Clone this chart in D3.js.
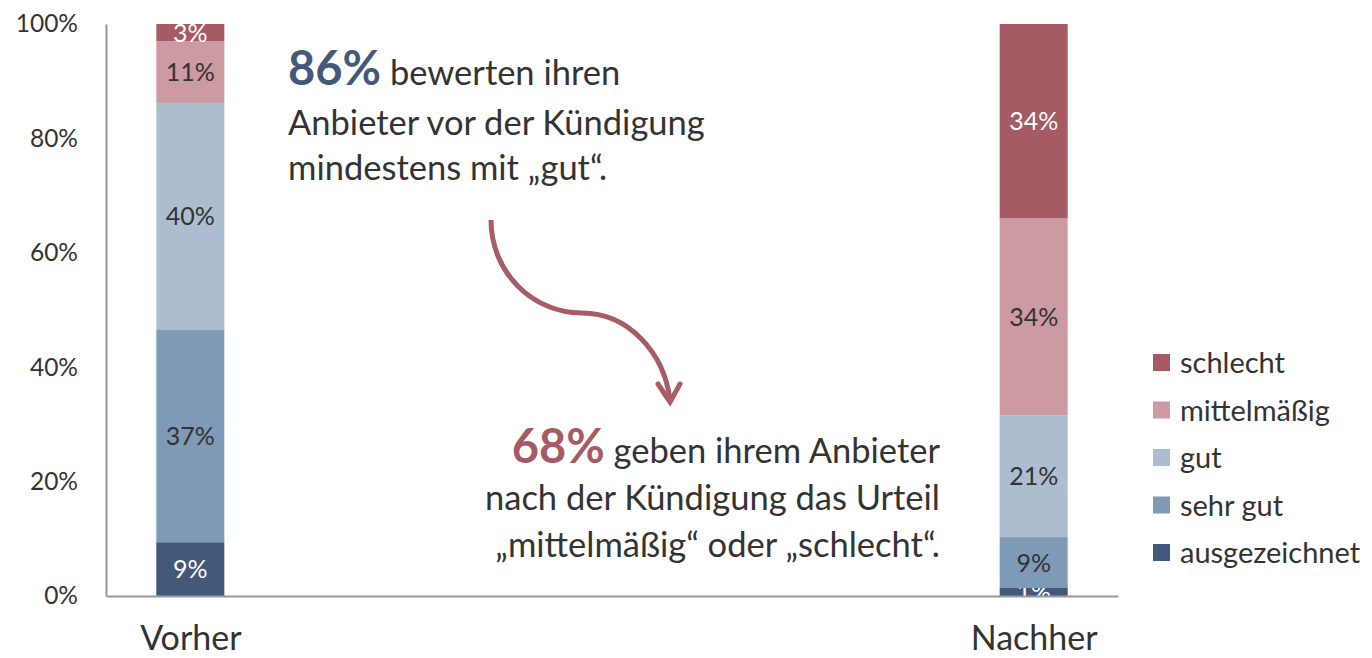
<!DOCTYPE html>
<html>
<head>
<meta charset="utf-8">
<script src="https://cdn.jsdelivr.net/npm/d3@7"></script>
<style>
  body { margin: 0; background: #fff; }
  svg { display: block; font-family: Lato, "Open Sans", sans-serif; }
</style>
</head>
<body>
<div id="chart"></div>
<script>
const categories = ['Vorher', 'Nachher'];
const ratings = ['ausgezeichnet', 'sehr gut', 'gut', 'mittelmäßig', 'schlecht'];
const vorher = [9.4, 37.1, 39.7, 10.8, 3.0];
const nachher = [1.4, 8.9, 21.3, 34.4, 34.0];
const labelsVorher = ['9%', '37%', '40%', '11%', '3%'];
const labelsNachher = ['1%', '9%', '21%', '34%', '34%'];
const yTicks = [0, 20, 40, 60, 80, 100];
const colors = ['#44597a', '#7f9ab6', '#adbdd0', '#cc9aa1', '#a65a63'];
const labelColors = ['#fff', '#333', '#333', '#333', '#fff'];

const width = 1372, height = 658;
const svg = d3.select('#chart').append('svg')
  .attr('width', width)
  .attr('height', height);

const x = d3.scalePoint()
  .domain(categories)
  .range([106, 1118])
  .padding(0.1);

const y = d3.scaleLinear()
  .domain([0, 100])
  .range([596, 24]);

const barWidth = 68;

// stack rows
const rows = categories.map((c, i) => {
  const vals = i === 0 ? vorher : nachher;
  const labs = i === 0 ? labelsVorher : labelsNachher;
  const row = { cat: c };
  ratings.forEach((r, j) => { row[r] = vals[j]; row[r + '_label'] = labs[j]; });
  return row;
});

const stack = d3.stack().keys(ratings);
const series = stack(rows);

const layers = svg.append('g')
  .selectAll('g')
  .data(series)
  .join('g')
    .attr('fill', (d, i) => colors[i]);

layers.selectAll('rect')
  .data(d => d.map(p => ({ p, key: d.key })))
  .join('rect')
    .attr('x', d => x(d.p.data.cat) - barWidth / 2)
    .attr('y', d => y(d.p[1]))
    .attr('width', barWidth)
    .attr('height', d => y(d.p[0]) - y(d.p[1]));

layers.selectAll('text')
  .data((d, i) => d.map(p => ({ p, key: d.key, idx: i })))
  .join('text')
    .attr('x', d => x(d.p.data.cat))
    .attr('y', d => (y(d.p[0]) + y(d.p[1])) / 2)
    .attr('dy', '0.36em')
    .attr('text-anchor', 'middle')
    .attr('font-size', 25)
    .attr('fill', d => labelColors[d.idx])
    .text(d => d.p.data[d.key + '_label']);

// y axis
const yAxis = svg.append('g')
  .attr('transform', 'translate(106,0)')
  .call(d3.axisLeft(y).tickValues(yTicks).tickFormat(d => d + '%').tickSize(0).tickPadding(28));
yAxis.selectAll('text')
  .attr('font-size', 24.5)
  .attr('font-family', 'Lato, sans-serif')
  .attr('fill', '#333');
yAxis.select('.domain').attr('stroke', '#999').attr('stroke-width', 2);

// x axis
const xAxis = svg.append('g')
  .attr('transform', 'translate(0,596)')
  .call(d3.axisBottom(x).tickSize(0).tickPadding(30));
xAxis.selectAll('text')
  .attr('font-size', 34)
  .attr('font-family', 'Lato, sans-serif')
  .attr('fill', '#333');
xAxis.select('.domain').attr('stroke', '#999').attr('stroke-width', 2);

// legend
const legendOrder = ratings.slice().reverse();
const legend = svg.append('g')
  .selectAll('g')
  .data(legendOrder)
  .join('g')
    .attr('transform', (d, i) => `translate(1153,${363 + i * 47.5})`);
legend.append('rect')
  .attr('x', 0).attr('y', -9)
  .attr('width', 17).attr('height', 17)
  .attr('fill', d => colors[ratings.indexOf(d)]);
legend.append('text')
  .attr('x', 27)
  .attr('dy', '0.35em')
  .attr('font-size', 29)
  .attr('fill', '#333')
  .text(d => d);

// annotation 1
const note1 = svg.append('text')
  .attr('x', 288)
  .attr('font-size', 34.5)
  .attr('fill', '#333');
note1.append('tspan').attr('x', 288).attr('y', 85)
  .attr('font-size', 47).attr('font-weight', 'bold').attr('fill', '#44597a').text('86%');
note1.append('tspan').text(' bewerten ihren');
note1.append('tspan').attr('x', 288).attr('y', 135).text('Anbieter vor der Kündigung');
note1.append('tspan').attr('x', 288).attr('y', 180).text('mindestens mit „gut“.');

// annotation 2
const note2 = svg.append('g')
  .attr('font-size', 34.5)
  .attr('fill', '#333')
  .attr('text-anchor', 'end');
const l1 = note2.append('text').attr('x', 940).attr('y', 463);
l1.append('tspan').attr('font-size', 47).attr('font-weight', 'bold').attr('fill', '#a65a63').text('68%');
l1.append('tspan').text(' geben ihrem Anbieter');
note2.append('text').attr('x', 940).attr('y', 510).text('nach der Kündigung das Urteil');
note2.append('text').attr('x', 940).attr('y', 557).text('„mittelmäßig“ oder „schlecht“.');

// arrow
svg.append('path')
  .attr('d', 'M491,220 C491,272 532,313 582,313 C628,313 664,352 670,400')
  .attr('fill', 'none')
  .attr('stroke', '#a85c66')
  .attr('stroke-width', 5);
svg.append('path')
  .attr('d', 'M658,384 L670,402 L680,384')
  .attr('fill', 'none')
  .attr('stroke', '#a85c66')
  .attr('stroke-width', 5)
  .attr('stroke-linecap', 'round');
</script>
</body>
</html>
